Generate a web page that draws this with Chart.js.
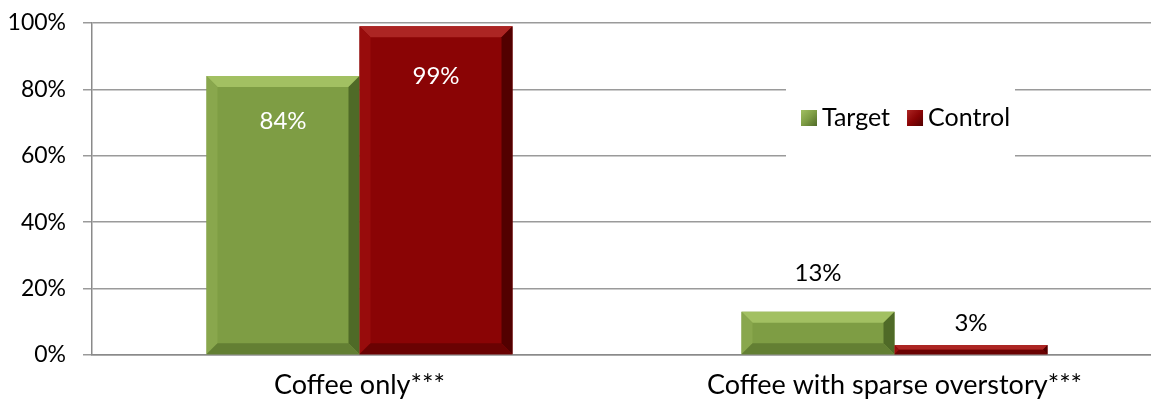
<!DOCTYPE html>
<html>
<head>
<meta charset="utf-8">
<script src="https://cdn.jsdelivr.net/npm/chart.js@4"></script>
<style>
  html, body { margin: 0; padding: 0; background: #fff; overflow: hidden; }
  #wrap { position: relative; width: 1165px; height: 403px; }
</style>
</head>
<body>
<div id="wrap"><canvas id="chart"></canvas></div>
<script>
// Share of plots by cropping system, target vs. control farms
const categories = ['Coffee only***', 'Coffee with sparse overstory***'];
const targetValues = [84, 13];
const controlValues = [99, 3];
const yTickValues = [0, 20, 40, 60, 80, 100];

const FONT = 'Lato, "Open Sans", sans-serif';

// Bevelled bar faces: drawn on top of each bar rectangle
const bevelPlugin = {
  id: 'bevel',
  afterDatasetsDraw(chart) {
    const ctx = chart.ctx;
    chart.data.datasets.forEach((ds, di) => {
      const meta = chart.getDatasetMeta(di);
      const bv = ds.bevel;
      meta.data.forEach(el => {
        const l = el.x - el.width / 2, r = el.x + el.width / 2;
        const t = Math.min(el.y, el.base), btm = Math.max(el.y, el.base);
        const b = Math.min(11, (btm - t) / 2, (r - l) / 2);
        const poly = (pts, c) => {
          ctx.beginPath();
          ctx.moveTo(pts[0][0], pts[0][1]);
          for (let i = 1; i < pts.length; i++) ctx.lineTo(pts[i][0], pts[i][1]);
          ctx.closePath();
          ctx.fillStyle = c;
          ctx.fill();
        };
        ctx.save();
        poly([[l, t], [r, t], [r - b, t + b], [l + b, t + b]], bv.top);
        poly([[l, t], [l + b, t + b], [l + b, btm - b], [l, btm]], bv.left);
        poly([[r, t], [r, btm], [r - b, btm - b], [r - b, t + b]], bv.right);
        poly([[l, btm], [r, btm], [r - b, btm - b], [l + b, btm - b]], bv.bottom);
        ctx.restore();
      });
    });
  }
};

// Value labels: inside the bar top for tall bars, above it for short ones
const valueLabelPlugin = {
  id: 'valueLabels',
  afterDatasetsDraw(chart) {
    const ctx = chart.ctx;
    ctx.save();
    ctx.font = '24px ' + FONT;
    ctx.textAlign = 'center';
    ctx.textBaseline = 'middle';
    chart.data.datasets.forEach((ds, di) => {
      const meta = chart.getDatasetMeta(di);
      meta.data.forEach((el, i) => {
        const v = ds.data[i];
        const inside = v >= 50;
        const off = inside ? ds.labelOffset.inside : -ds.labelOffset.outside;
        ctx.fillStyle = inside ? '#ffffff' : '#000000';
        ctx.fillText(v + '%', el.x, el.y + off);
      });
    });
    ctx.restore();
  }
};

// Legend on a white panel over the gridlines
const legendPanelPlugin = {
  id: 'legendPanel',
  afterDatasetsDraw(chart, args, opts) {
    const ctx = chart.ctx;
    ctx.save();
    ctx.fillStyle = '#ffffff';
    ctx.fillRect(opts.x, opts.y, opts.w, opts.h);
    ctx.font = '25px ' + FONT;
    ctx.textBaseline = 'middle';
    ctx.textAlign = 'left';
    let x = opts.x + 15;
    const cy = opts.y + opts.h / 2;
    chart.data.datasets.forEach(ds => {
      const s = 16;
      const sx = x, sy = cy - s / 2;
      const g = ctx.createLinearGradient(sx, sy, sx + s, sy + s);
      g.addColorStop(0, ds.bevel.top);
      g.addColorStop(0.5, ds.backgroundColor);
      g.addColorStop(1, ds.bevel.right);
      ctx.fillStyle = g;
      ctx.fillRect(sx, sy, s, s);
      ctx.fillStyle = '#000000';
      ctx.fillText(ds.label, sx + s + 5, cy);
      x = sx + s + 5 + ctx.measureText(ds.label).width + 17;
    });
    ctx.restore();
  }
};

new Chart(document.getElementById('chart'), {
  type: 'bar',
  data: {
    labels: categories,
    datasets: [
      {
        label: 'Target',
        data: targetValues,
        backgroundColor: '#7E9D44',
        bevel: { top: '#A2C062', left: '#89A74D', right: '#4F6A27', bottom: '#637F33' },
        labelOffset: { inside: 45, outside: 39 }
      },
      {
        label: 'Control',
        data: controlValues,
        backgroundColor: '#8A0405',
        bevel: { top: '#AC2523', left: '#980C0C', right: '#520000', bottom: '#6A0202' },
        labelOffset: { inside: 50, outside: 22 }
      }
    ]
  },
  options: {
    responsive: true,
    maintainAspectRatio: false,
    animation: false,
    layout: { padding: { top: 23, right: 3, left: 0, bottom: 0 } },
    datasets: {
      bar: { barPercentage: 1.0, categoryPercentage: 0.572, borderWidth: 0 }
    },
    scales: {
      x: {
        grid: { display: false, drawTicks: false },
        border: { display: true, color: '#8a8a8a', width: 1.5 },
        ticks: { color: '#000', font: { family: FONT, size: 27 }, padding: 14 },
        afterFit(scale) { scale.height = 48; scale.paddingLeft = 0; scale.paddingRight = 0; }
      },
      y: {
        min: 0,
        max: 100,
        afterBuildTicks(scale) { scale.ticks = yTickValues.map(v => ({ value: v })); },
        grid: { color: '#9a9a9a', lineWidth: 1.5, tickLength: 9, drawTicks: true },
        border: { display: true, color: '#8a8a8a', width: 1.5 },
        ticks: {
          color: '#000',
          font: { family: FONT, size: 23 },
          padding: 17,
          callback: v => v + '%'
        },
        afterFit(scale) { scale.width = 92; scale.paddingTop = 0; scale.paddingBottom = 0; }
      }
    },
    plugins: {
      legend: { display: false },
      tooltip: { enabled: false },
      legendPanel: { x: 786, y: 76, w: 229, h: 84 }
    }
  },
  plugins: [bevelPlugin, valueLabelPlugin, legendPanelPlugin]
});
</script>
</body>
</html>
